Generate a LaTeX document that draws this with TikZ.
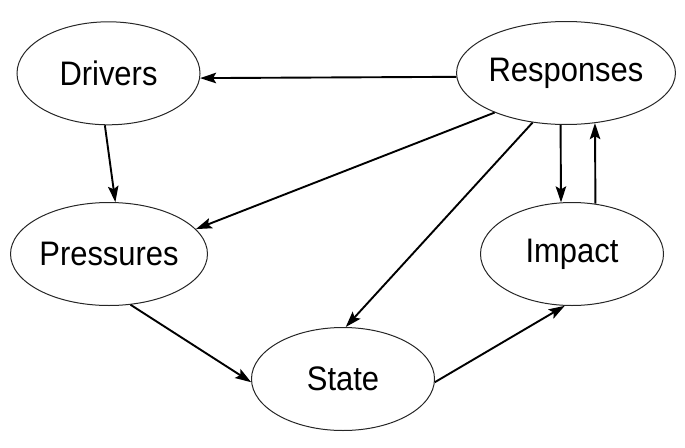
\documentclass[tikz,border=0pt]{standalone}
\usepackage{fontspec}
\setmainfont{Liberation Sans}[FakeStretch=0.91]
\usetikzlibrary{shapes.geometric,arrows.meta}
\begin{document}
\begin{tikzpicture}[x=1pt,y=-1pt,
  bubble/.style={ellipse,draw=black!85,line width=1pt,minimum width=183pt,minimum height=103pt,inner sep=0pt,font=\fontsize{34}{40}\selectfont},
  link/.style={line width=1.9pt,-{Stealth[length=16pt,width=10.5pt,inset=3pt]}}]
\useasboundingbox (0,0) rectangle (685,447);
\node[bubble] (D) at (108.5,73.3) {Drivers};
\node[bubble] (R) at (566,73) {Responses};
\node[bubble] (P) at (109,254) {Pressures};
\node[bubble] (I) at (572,254) {Impact};
\node[bubble] (S) at (343,379) {State};
\draw[link] (R.182.8) -- (D.357.2);
\draw[link] (D.266.1) -- (P.83.5);
\draw[link] (R.209.5) -- (P.16.2);
\draw[link] (R.236.6) -- (S.87.9);
\draw[link] (R.264.1) -- (I.102.5);
\draw[link] (I.65.1) -- (R.300.8);
\draw[link] (P.293.6) -- (S.182);
\draw[link] (S.358.3) -- (I.262.4);
\end{tikzpicture}
\end{document}
